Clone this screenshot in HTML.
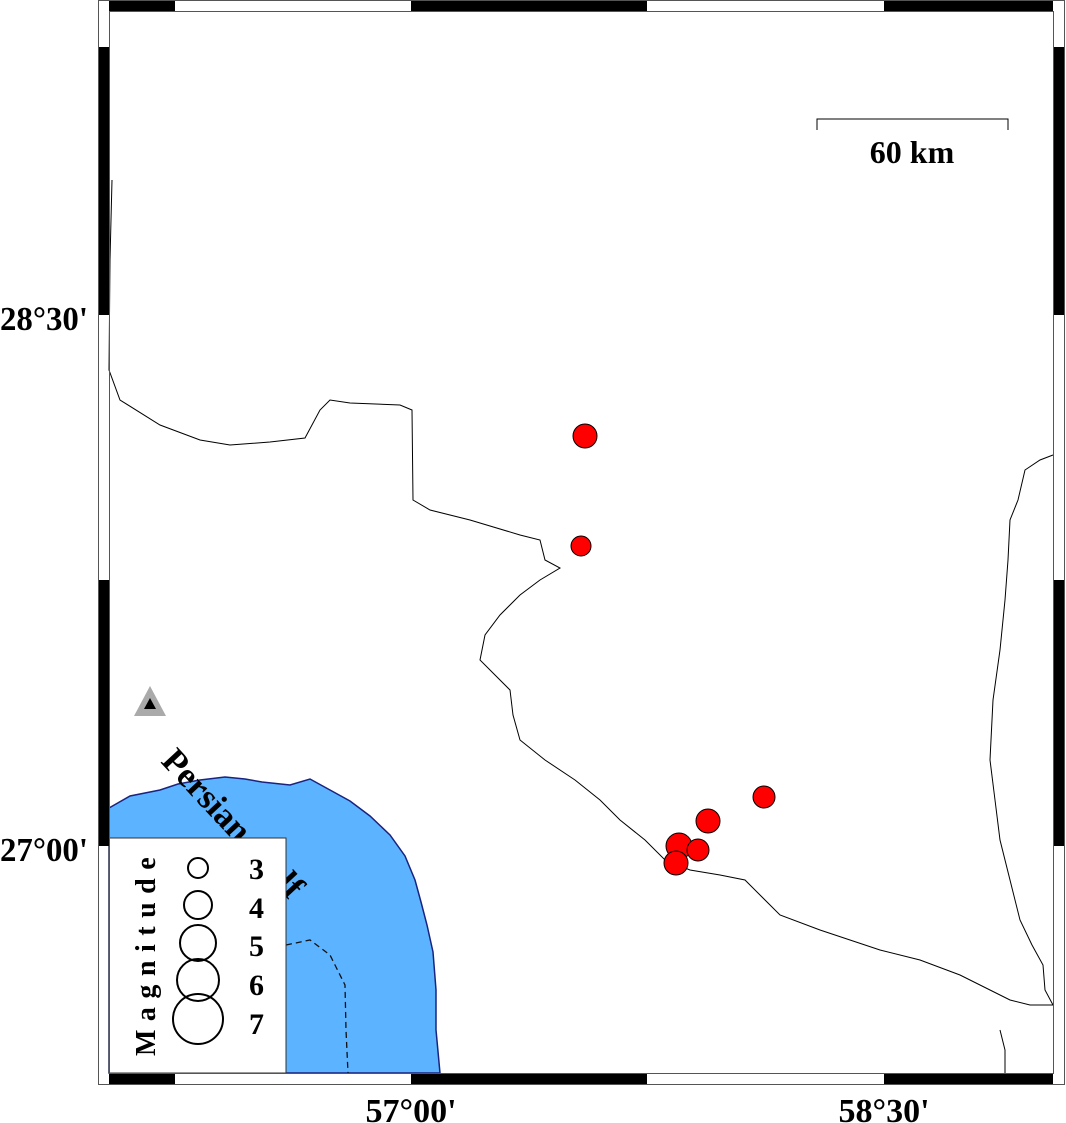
<!DOCTYPE html>
<html><head><style>html,body{margin:0;padding:0;background:#fff}svg{display:block}text{font-family:"Liberation Serif",serif;font-weight:bold}</style></head>
<body>
<svg width="1066" height="1123" viewBox="0 0 1066 1123" xmlns="http://www.w3.org/2000/svg">
<rect width="1066" height="1123" fill="#fff"/>
<path d="M109,808 L130,796 L160,790 L178,784 L200,780 L225,777 L245,779 L262,782 L290,785 L310,779 L330,790 L350,801 L370,816 L390,835 L405,856 L415,880 L421,902 L427,925 L433,952 L436,990 L436,1030 L440,1073 L109,1073 Z" fill="#5cb3ff" stroke="#1a237e" stroke-width="1.5"/>
<path d="M286,945 L310,940 L330,955 L345,985 L346,1030 L348,1073" fill="none" stroke="#111" stroke-width="1.3" stroke-dasharray="6,4"/>
<g fill="none" stroke="#000" stroke-width="1">
<path d="M112,180 L110,260 L109,370 L120,400 L160,425 L200,440 L230,445 L270,442 L305,438 L320,410 L330,400 L350,403 L400,405 L412,410 L413,500 L430,510 L470,520 L520,535 L540,540 L545,560 L560,568 L540,580 L520,595 L500,615 L485,635 L480,660 L495,675 L510,690 L513,715 L520,740 L545,760 L575,780 L600,800 L620,820 L645,840 L665,860 L690,870 L720,875 L745,880 L760,895 L780,915 L820,930 L850,940 L880,950 L920,960 L960,975 L990,990 L1010,1000 L1030,1005 L1053,1005"/>
<path d="M1053,455 L1040,460 L1025,470 L1018,500 L1010,520 L1008,560 L1005,600 L1000,650 L993,700 L990,760 L995,800 L1000,840 L1010,880 L1020,920 L1032,945 L1043,965 L1045,990 L1053,1005"/>
<path d="M1000,1030 L1005,1050 L1005,1073"/>
</g>
<g fill="#f00" stroke="#000" stroke-width="1">
<circle cx="585" cy="436" r="12"/>
<circle cx="581" cy="546" r="10"/>
<circle cx="764" cy="797" r="11"/>
<circle cx="708" cy="821" r="12"/>
<circle cx="679" cy="846" r="13"/>
<circle cx="698" cy="850" r="11"/>
<circle cx="676" cy="863" r="12"/>
</g>
<polygon points="150,686 134,716 166,716" fill="#aaa"/>
<polygon points="150,698 144,709 156,709" fill="#000"/>
<text x="0" y="0" font-size="35" transform="translate(160,762) rotate(47)">Persian Gulf</text>
<rect x="109" y="838" width="177" height="235" fill="#fff" stroke="#333" stroke-width="1"/>
<text x="0" y="0" font-size="28" letter-spacing="8.5" transform="translate(155,1056) rotate(-90)">Magnitude</text>
<g fill="none" stroke="#000" stroke-width="2">
<circle cx="198" cy="868" r="10"/>
<circle cx="198" cy="905" r="14"/>
<circle cx="198" cy="943" r="18"/>
<circle cx="198" cy="980" r="21"/>
<circle cx="198" cy="1019" r="25"/>
</g>
<g font-size="30"><text x="249" y="879">3</text><text x="249" y="918">4</text><text x="249" y="956">5</text><text x="249" y="995">6</text><text x="249" y="1034">7</text></g>
<path d="M817,130 L817,119 L1008,119 L1008,130" fill="none" stroke="#000" stroke-width="1"/>
<text x="912" y="163" font-size="32" text-anchor="middle">60 km</text>
<g stroke="#555" stroke-width="1">
<rect x="98.5" y="0.5" width="966" height="1084" fill="none"/>
<rect x="109.5" y="11.5" width="944" height="1062" fill="none"/>
</g>
<g fill="#000">
<rect x="109" y="1" width="66" height="10"/><rect x="411" y="1" width="236" height="10"/><rect x="884" y="1" width="169" height="10"/>
<rect x="109" y="1074" width="66" height="10"/><rect x="411" y="1074" width="236" height="10"/><rect x="884" y="1074" width="169" height="10"/>
<rect x="99" y="47" width="10" height="268"/><rect x="99" y="580" width="10" height="266"/>
<rect x="1054" y="47" width="10" height="268"/><rect x="1054" y="580" width="10" height="266"/>
</g>
<g font-size="34">
<text x="0" y="330" textLength="88" lengthAdjust="spacingAndGlyphs">28°30'</text>
<text x="0" y="861" textLength="88" lengthAdjust="spacingAndGlyphs">27°00'</text>
<text x="411" y="1122" text-anchor="middle">57°00'</text>
<text x="884" y="1122" text-anchor="middle">58°30'</text>
</g>
</svg>
</body></html>
